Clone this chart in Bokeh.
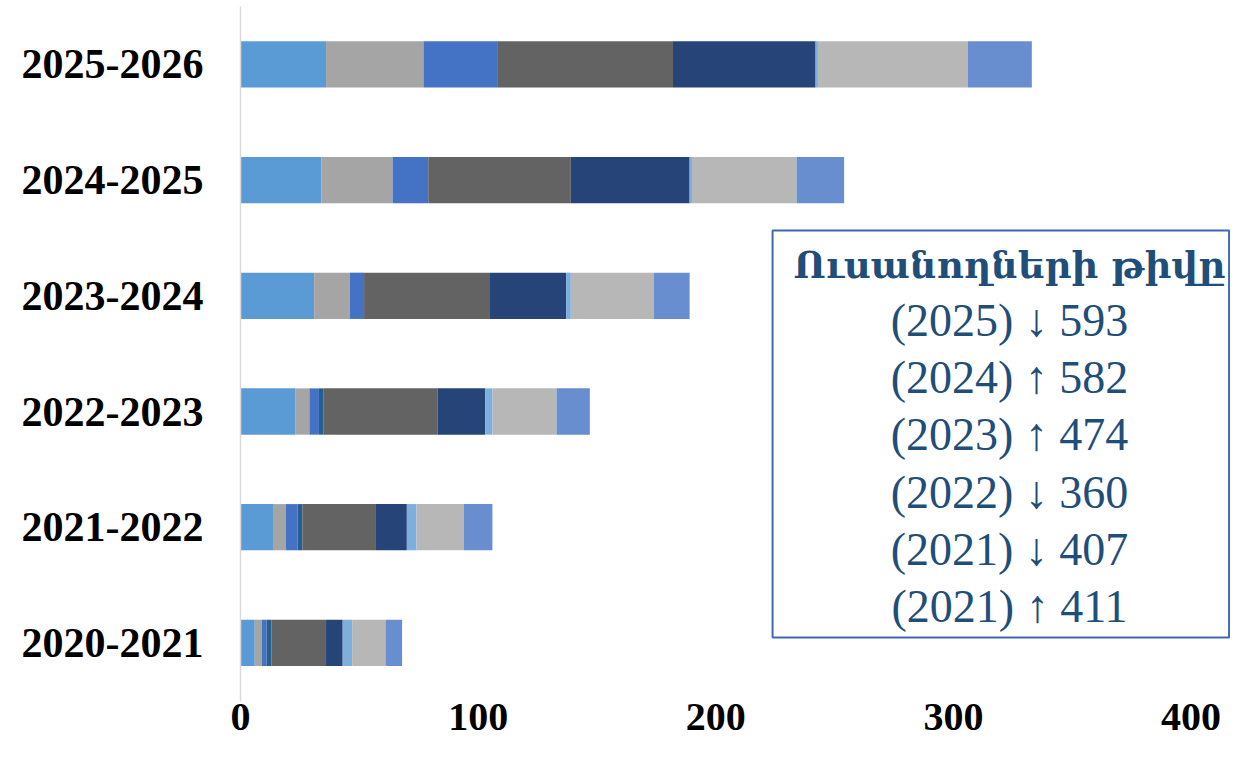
from bokeh.plotting import figure
from bokeh.models import ColumnDataSource, FixedTicker, BoxAnnotation, Label
from bokeh.embed import file_html
from bokeh.resources import INLINE

# ---- data -------------------------------------------------------------
categories = ["2020-2021", "2021-2022", "2022-2023", "2023-2024", "2024-2025", "2025-2026"]
series_names = ["s1", "s2", "s3", "s4", "s5", "s6", "s7", "s8", "s9"]
s1 = [6, 14, 23, 31, 34, 36]
s2 = [3, 5, 6, 15, 30, 41]
s3 = [2, 5, 4, 6, 15, 31]
s4 = [2, 2, 2, 0, 0, 0]
s5 = [23, 31, 48, 53, 60, 74]
s6 = [7, 13, 20, 32, 50, 60]
s7 = [4, 4, 3, 2, 1, 1]
s8 = [14, 20, 27, 35, 44, 63]
s9 = [7, 12, 14, 15, 20, 27]
x_ticks = [0, 100, 200, 300, 400]

legend_title = "Ուսանողների թիվը"
legend_years = ["2025", "2024", "2023", "2022", "2021", "2021"]
legend_arrows = ["↓", "↑", "↑", "↓", "↓", "↑"]
legend_counts = [593, 582, 474, 360, 407, 411]

colors = ["#5B9BD5", "#A5A5A5", "#4472C4", "#255E91", "#636363",
          "#264478", "#7CAFDD", "#B7B7B7", "#698ED0"]

# ---- figure -----------------------------------------------------------
ypos = list(range(len(categories)))
source = ColumnDataSource(dict(y=ypos, s1=s1, s2=s2, s3=s3, s4=s4, s5=s5,
                               s6=s6, s7=s7, s8=s8, s9=s9))

p = figure(width=1230, height=749, output_backend="svg", toolbar_location=None,
           x_range=(0, 416.6), y_range=(-0.506, 5.5),
           min_border_left=240, min_border_right=0, min_border_top=6,
           min_border_bottom=48)
p.outline_line_color = None
p.xgrid.grid_line_color = None
p.ygrid.grid_line_color = None
p.background_fill_color = "white"

p.hbar_stack(series_names, y="y", height=0.4, color=colors, line_color=None,
             source=source)

serif = "Liberation Serif"

p.xaxis.ticker = FixedTicker(ticks=x_ticks)
p.xaxis.axis_line_color = None
p.xaxis.major_tick_line_color = None
p.xaxis.minor_tick_line_color = None
p.xaxis.major_tick_out = 0
p.xaxis.major_label_standoff = 2
p.xaxis.major_label_text_font = serif
p.xaxis.major_label_text_font_style = "bold"
p.xaxis.major_label_text_font_size = "40px"
p.xaxis.major_label_text_color = "black"

p.yaxis.ticker = FixedTicker(ticks=ypos)
p.yaxis.major_label_overrides = {i: c for i, c in enumerate(categories)}
p.yaxis.axis_line_color = "#D9D9D9"
p.yaxis.axis_line_width = 1.5
p.yaxis.major_tick_line_color = None
p.yaxis.minor_tick_line_color = None
p.yaxis.major_tick_out = 0
p.yaxis.major_label_standoff = 37
p.yaxis.major_label_text_font = serif
p.yaxis.major_label_text_font_style = "bold"
p.yaxis.major_label_text_font_size = "42px"
p.yaxis.major_label_text_color = "black"

# ---- text box ---------------------------------------------------------
box = BoxAnnotation(left=223.9, right=416.0, top=3.564, bottom=0.046,
                    fill_color="white", fill_alpha=1.0,
                    line_color="#3F68B5", line_alpha=1.0, line_width=2)
p.add_layout(box)

text_color = "#1F4E79"
cx = 323.6
# vertical centres (data units)
title_y = 5.5 - (264 - 6) / 115.7
line0_y = 5.5 - (319.7 - 6) / 115.7
line_step = 57.3 / 115.7

p.add_layout(Label(x=cx, y=title_y, text=legend_title, text_align="center",
                   text_baseline="middle", text_font="DejaVu Serif",
                   text_font_style="bold", text_font_size="37px",
                   text_color=text_color))
for i, (yr, ar, cnt) in enumerate(zip(legend_years, legend_arrows, legend_counts)):
    p.add_layout(Label(x=cx, y=line0_y - i * line_step, text=f"({yr}) {ar} {cnt}",
                       text_align="center", text_baseline="middle",
                       text_font=serif, text_font_size="46px",
                       text_color=text_color))

open("out.html", "w").write(file_html(p, INLINE))
